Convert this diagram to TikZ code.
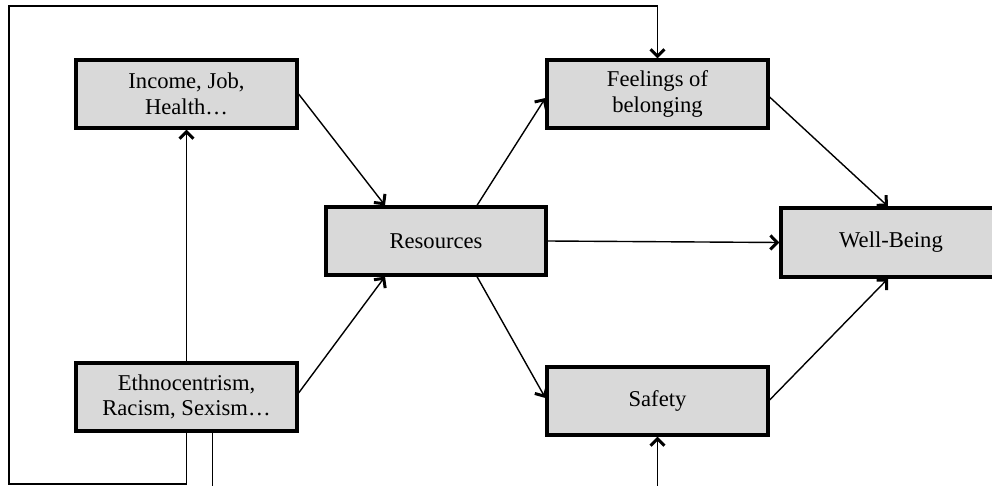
\documentclass[tikz,border=0pt]{standalone}
\usepackage{fontspec}
\setmainfont{Liberation Serif}
\usetikzlibrary{arrows.meta,calc}
\begin{document}
\begin{tikzpicture}[x=1pt,y=-1pt,
  box/.style={draw=black,line width=3.2pt,fill=boxgray,minimum width=221pt,minimum height=68pt,
    inner sep=0pt,align=center,font=\fontsize{22.6}{25.5}\selectfont},
  conn/.style={line width=1.4pt},
  arr/.style={conn,-{Straight Barb[length=7pt,width=14pt,line width=3pt]}}]
\definecolor{boxgray}{HTML}{D9D9D9}
\useasboundingbox (0,0) rectangle (992,486);
\node[box] (inc) at (186.5,94) {Income, Job,\\Health…};
\node[box] (eth) at (186.5,397) {Ethnocentrism,\\Racism, Sexism…};
\node[box,minimum width=220pt] (res) at (436,241) {Resources};
\node[box] (fee) at (657.5,94) {Feelings of\\belonging};
\node[box] (saf) at (657.5,401) {Safety};
\node[box,minimum width=220pt,minimum height=69pt] (wel) at (891,242.5) {Well-Being};
\coordinate (lb) at (9,484);
\coordinate (lt) at (9,6);
\coordinate (ethout) at (212.5,492);
\coordinate (safin) at (657.5,492);
\draw[arr] (inc.east) -- ($(res.north)+(-51,0)$);
\draw[arr] ($(eth.east)+(0,-4)$) -- ($(res.south)+(-51,0)$);
\draw[arr] ($(res.north)+(41,0)$) -- ($(fee.west)+(0,4)$);
\draw[arr] ($(res.south)+(41,0)$) -- ($(saf.west)+(0,-3)$);
\draw[arr] (res.east) -- (wel.west);
\draw[arr] ($(fee.east)+(0,3)$) -- ($(wel.north)+(-3,0)$);
\draw[arr] ($(saf.east)+(0,-1)$) -- ($(wel.south)+(-3,0)$);
\draw[arr] (eth.north) -- (inc.south);
\draw[arr] (eth.south) |- (lb) -- (lt) -| (fee.north);
\draw[conn] ($(eth.south)+(26,0)$) -- (ethout);
\draw[arr] (safin) -- (saf.south);
\end{tikzpicture}
\end{document}
